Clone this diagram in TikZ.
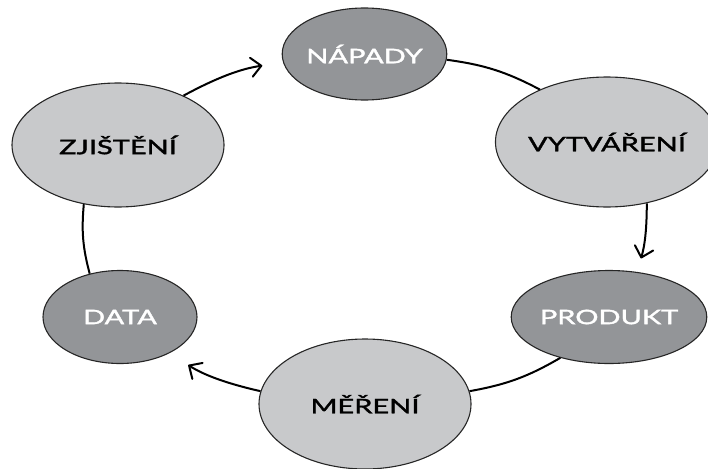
\documentclass[tikz,border=0pt]{standalone}
\usepackage{fontspec}
\setmainfont{Lato}[FakeStretch=1.45,FakeBold=1.8]
\usetikzlibrary{shapes.geometric,arrows.meta}
\definecolor{darkfill}{HTML}{939598}
\definecolor{lightfill}{HTML}{C8C9CB}
\tikzset{
  bubble/.style={ellipse, draw=black!85, line width=1.1pt, inner sep=0pt, font=\fontsize{20}{24}\selectfont},
  darkbubble/.style={bubble, fill=darkfill, text=white},
  lightbubble/.style={bubble, fill=lightfill, text=black},
  link/.style={line width=2pt, black},
  arr/.style={link, -{Straight Barb[length=10pt,width=19pt,line width=2pt,round]}}
}
\begin{document}
\begin{tikzpicture}[x=1pt,y=-1pt]
\useasboundingbox (0,0) rectangle (708,468);
\node[darkbubble, minimum width=155pt, minimum height=92pt] (N) at (364.5,54) {NÁPADY};
\node[lightbubble, minimum width=202pt, minimum height=130pt] (V) at (607,142) {VYTVÁŘENÍ};
\node[darkbubble, minimum width=155pt, minimum height=93pt] (P) at (609,317) {PRODUKT};
\node[lightbubble, minimum width=212pt, minimum height=130pt] (M) at (365,404) {MĚŘENÍ};
\node[darkbubble, minimum width=154pt, minimum height=93pt] (D) at (120,317) {DATA};
\node[lightbubble, minimum width=212pt, minimum height=124pt] (Z) at (118,145) {ZJIŠTĚNÍ};
\draw[arr, shorten >=21pt] (Z.37) to[bend left=10] (N.186);
\draw[link] (N.-4) to[bend left=10] (V.142);
\draw[arr, shorten >=14pt] (V.-57) to[bend left=8] (P.58);
\draw[link] (P.220) to[bend left=10] (M.7);
\draw[arr, shorten >=22pt] (M.173) to[bend left=10] (D.-36);
\draw[link] (D.125) to[bend left=10] (Z.240);
\end{tikzpicture}
\end{document}
